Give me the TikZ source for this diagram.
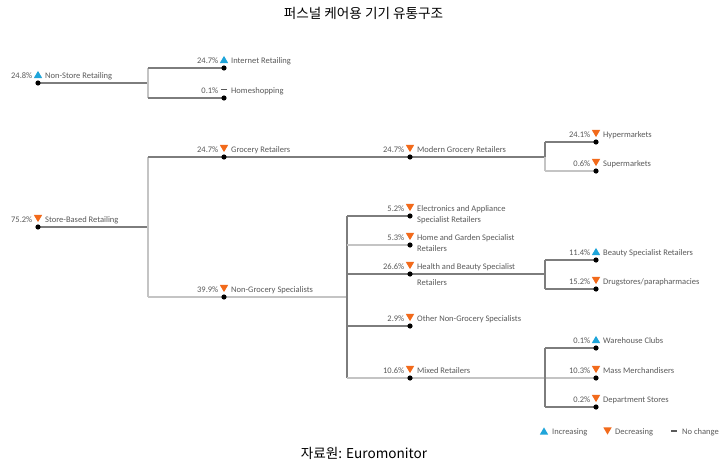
\documentclass[tikz,border=0pt]{standalone}
\usepackage{fontspec}
\setmainfont{Carlito}
\newfontfamily\krfont{Noto Sans CJK KR}
\definecolor{txt}{HTML}{5A5A5A}
\definecolor{upc}{HTML}{1FA5DA}
\definecolor{dnc}{HTML}{F26A1B}
\definecolor{linedark}{HTML}{7D7D7D}
\definecolor{linelight}{HTML}{C4C4C4}
\pgfdeclarelayer{bg}
\pgfsetlayers{bg,main}
\newcommand\upm[2]{\fill[upc] (#1-4.2,#2+3.6) -- (#1+4.2,#2+3.6) -- (#1,#2-3.6) -- cycle;}
\newcommand\dnm[2]{\fill[dnc] (#1-4.2,#2-3.6) -- (#1+4.2,#2-3.6) -- (#1,#2+3.6) -- cycle;}
\newcommand\ncm[2]{\fill[txt] (#1-3.2,#2-0.7) rectangle (#1+3.2,#2+0.7);}
\newcommand\entry[6]{%
  \node[dot] (#1) at (#2,#3) {};
  \node[pct] (#1p) at (#2-5.5,#3-5) {#4};
  #5{#2}{#3-8.5}
  \node[lab] (#1t) at (#2+7,#3-5) {#6};
}
\newcommand\twol[3]{\vtop{\baselineskip=#3\hbox{#1}\hbox{#2}}}
\begin{document}
\begin{tikzpicture}[x=1pt,y=-1pt,
  dot/.style={circle,fill=black,inner sep=0pt,minimum size=5.2pt},
  dk/.style={draw=linedark,line width=1.5pt},
  lt/.style={draw=linelight,line width=1.2pt},
  pct/.style={font=\fontsize{8.5}{10}\selectfont,text=txt,inner sep=0pt,anchor=base east},
  lab/.style={font=\fontsize{8.5}{10}\selectfont,text=txt,inner sep=0pt,anchor=base west},
  hdr/.style={font=\krfont\fontsize{13.6}{15}\selectfont,text=black,inner sep=0pt},
]
\useasboundingbox (0,0) rectangle (724,466);

\node[hdr] (title) at (363.5,13) {퍼스널 케어용 기기 유통구조};
\node[hdr] (src) at (364,453) {자료원: Euromonitor};

\entry{ns}{38}{83}{24.8\%}{\upm}{Non-Store Retailing}
\entry{ir}{224}{68}{24.7\%}{\upm}{Internet Retailing}
\entry{hs}{224}{98}{0.1\%}{\ncm}{Homeshopping}
\entry{sb}{38}{227}{75.2\%}{\dnm}{Store-Based Retailing}
\entry{gr}{224}{157}{24.7\%}{\dnm}{Grocery Retailers}
\entry{ng}{224}{297}{39.9\%}{\dnm}{Non-Grocery Specialists}
\entry{mg}{410}{157}{24.7\%}{\dnm}{Modern Grocery Retailers}
\entry{hy}{596}{142}{24.1\%}{\dnm}{Hypermarkets}
\entry{su}{596}{171}{0.6\%}{\dnm}{Supermarkets}
\entry{el}{410}{216}{5.2\%}{\dnm}{\twol{Electronics and Appliance}{Specialist Retailers}{11.5pt}}
\entry{hg}{410}{245}{5.3\%}{\dnm}{\twol{Home and Garden Specialist}{Retailers}{11pt}}
\entry{hb}{410}{274}{26.6\%}{\dnm}{\twol{Health and Beauty Specialist}{Retailers}{16.7pt}}
\entry{bs}{596}{260}{11.4\%}{\upm}{Beauty Specialist Retailers}
\entry{dr}{596}{289}{15.2\%}{\dnm}{Drugstores/parapharmacies}
\entry{on}{410}{326}{2.9\%}{\dnm}{Other Non-Grocery Specialists}
\entry{mx}{410}{378}{10.6\%}{\dnm}{Mixed Retailers}
\entry{wc}{596}{348}{0.1\%}{\upm}{Warehouse Clubs}
\entry{mm}{596}{378}{10.3\%}{\dnm}{Mass Merchandisers}
\entry{ds}{596}{407}{0.2\%}{\dnm}{Department Stores}

% branch points
\coordinate (b1) at (148,83);
\coordinate (b1t) at (148,68);
\coordinate (b1b) at (148,98);
\coordinate (b2) at (148,227);
\coordinate (b2t) at (148,157);
\coordinate (b2b) at (148,297);
\coordinate (b3) at (545,157);
\coordinate (b3t) at (545,142);
\coordinate (b3b) at (545,171);
\coordinate (b4) at (347,297);
\coordinate (b4t) at (347,216);
\coordinate (b4g) at (347,245);
\coordinate (b4h) at (347,274);
\coordinate (b4o) at (347,326);
\coordinate (b4b) at (347,378);
\coordinate (b5) at (545,274);
\coordinate (b5t) at (545,260);
\coordinate (b5b) at (545,289);
\coordinate (b6t) at (545,348);
\coordinate (b6b) at (545,407);

\begin{pgfonlayer}{bg}
\fill[white] (0,0) rectangle (724,466);
\draw[dk] (ns.center) -- (b1);
\draw[lt] (b1t) -- (b1b);
\draw[dk] (b1t) -- (ir.center);
\draw[dk] (b1b) -- (hs.center);

\draw[dk] (sb.center) -- (b2);
\draw[lt] (b2t) -- (b2b);
\draw[dk] (b2t) -- (gr.center) -- (mg.center) -- (b3);
\draw[dk] (b3t) -- (b3);
\draw[lt] (b3) -- (b3b);
\draw[dk] (b3t) -- (hy.center);
\draw[lt] (b3b) -- (su.center);

\draw[lt] (b2b) -- (ng.center) -- (b4);
\draw[dk] (b4t) -- (b4b);
\draw[dk] (b4t) -- (el.center);
\draw[lt] (b4g) -- (hg.center);
\draw[dk] (b4h) -- (hb.center) -- (b5);
\draw[dk] (b5t) -- (b5b);
\draw[dk] (b5t) -- (bs.center);
\draw[dk] (b5b) -- (dr.center);
\draw[dk] (b4o) -- (on.center);
\draw[lt] (b4b) -- (mx.center) -- (mm.center);
\draw[dk] (b6t) -- (b6b);
\draw[dk] (b6t) -- (wc.center);
\draw[dk] (b6b) -- (ds.center);
\end{pgfonlayer}

% legend
\upm{544}{431}
\node[lab] (lgi) at (552,434) {Increasing};
\dnm{607.5}{431}
\node[lab] (lgd) at (615,434) {Decreasing};
\ncm{674}{431}
\node[lab] (lgn) at (682,434) {No change};
\end{tikzpicture}
\end{document}
